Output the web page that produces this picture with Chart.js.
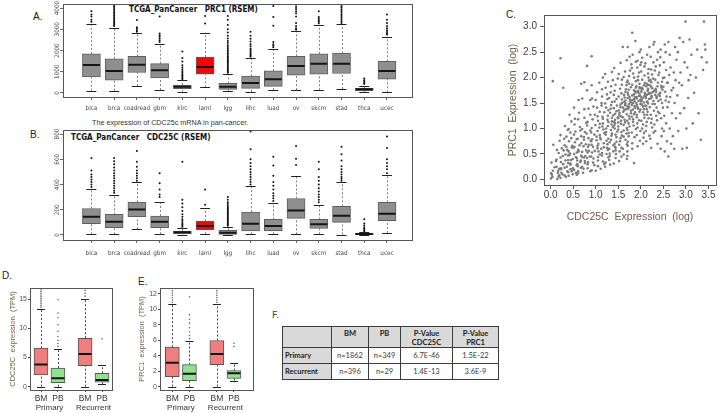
<!DOCTYPE html>
<html>
<head>
<meta charset="utf-8">
<script src="https://cdn.jsdelivr.net/npm/chart.js@4.4.1/dist/chart.umd.min.js"></script>
<style>
  body { margin: 0; width: 720px; height: 413px; position: relative; overflow: hidden; background: #fff;
         font-family: 'Liberation Sans', Arial, sans-serif; }
  canvas, .t { position: absolute; }
  .t { white-space: pre; line-height: 1; color: #222; }
  .letter { font-size: 10px; }
  .ptitle { font-family: 'Liberation Sans Narrow', 'DejaVu Sans Condensed', sans-serif; font-weight: bold; font-size: 8px; color: #111; }
  .caption { font-size: 7.2px; color: #333; }
  #tableF { position: absolute; left: 282px; top: 326px; border-collapse: collapse;
            font-family: Lato, 'Open Sans', sans-serif; font-size: 7.5px; color: #3a3a3a; }
  #tableF td { border: 1.3px solid #3c3c3c; padding: 0; text-align: center; vertical-align: middle; line-height: 1.2; }
  #tableF tr.head td { background: #d9d9d9; font-weight: bold; vertical-align: top; padding-top: 2px; height: 18px; color: #222; }
  #tableF tr.row td { height: 15px; }
  #tableF td.rh { background: #d9d9d9; font-weight: bold; text-align: left; padding-left: 2px; color: #222; }
</style>
</head>
<body>

<div class="t letter" style="left:33px;top:12px">A.</div>
<div class="t ptitle" style="left:129px;top:6px">TCGA_PanCancer   PRC1 (RSEM)</div>
<canvas id="chartA" width="420" height="115" style="left:0;top:0"></canvas>

<div class="t caption" style="left:92px;top:119px">The expression of CDC25c mRNA in pan-cancer.</div>
<div class="t letter" style="left:30px;top:130px">B.</div>
<div class="t ptitle" style="left:71px;top:133.5px">TCGA_PanCancer   CDC25C (RSEM)</div>
<canvas id="chartB" width="420" height="145" style="left:0;top:118px"></canvas>

<div class="t letter" style="left:506px;top:10px">C.</div>
<canvas id="chartC" width="220" height="230" style="left:500px;top:0"></canvas>

<div class="t letter" style="left:2px;top:271px">D.</div>
<canvas id="chartD" width="125" height="133" style="left:0;top:280px"></canvas>

<div class="t letter" style="left:138px;top:277px">E.</div>
<canvas id="chartE" width="130" height="133" style="left:130px;top:280px"></canvas>

<div class="t letter" style="left:272px;top:310px;font-family:Lato,sans-serif;font-size:9.5px;color:#444">F.</div>
<table id="tableF">
  <colgroup><col style="width:49px"><col style="width:37px"><col style="width:32px"><col style="width:52px"><col style="width:46px"></colgroup>
  <tr class="head"><td></td><td>BM</td><td>PB</td><td>P-Value<br>CDC25C</td><td>P-Value<br>PRC1</td></tr>
  <tr class="row"><td class="rh">Primary</td><td>n=1862</td><td>n=349</td><td>6.7E-46</td><td>1.5E-22</td></tr>
  <tr class="row"><td class="rh">Recurrent</td><td>n=396</td><td>n=29</td><td>1.4E-13</td><td>3.6E-9</td></tr>
</table>

<script>
// ---------- panels A and B: TCGA pan-cancer boxplots ----------
const cancers = ['blca', 'brca', 'coadread', 'gbm', 'kirc', 'laml', 'lgg', 'lihc', 'luad', 'ov', 'skcm', 'stad', 'thca', 'ucec'];

const prc1Low    = [107, 107, 325, 140, 62, 265, 93, 46, 140, 140, 125, 186, 30, 30];
const prc1Q1     = [760, 605, 962, 713, 202, 884, 170, 217, 310, 837, 884, 915, 107, 650];
const prc1Median = [1318, 1040, 1333, 1070, 295, 1225, 295, 465, 650, 1271, 1380, 1380, 170, 1040];
const prc1Q3     = [1845, 1612, 1720, 1380, 372, 1690, 450, 790, 1040, 1720, 1845, 1876, 218, 1490];
const prc1High   = [3240, 3060, 2840, 2310, 605, 2840, 880, 1640, 2080, 2900, 3210, 3240, 340, 2650];
const prc1Outliers = [
  [3350, 3450, 3600, 3700, 3850],
  [3150, 3200, 3260, 3320, 3380, 3450, 3520, 3580, 3650, 3720, 3790, 3860, 3930, 4000, 4070, 4140, 4190],
  [2880, 2950, 3020, 3100, 3440],
  [2400, 2480, 2560, 2650, 2720, 2800, 3600],
  [650, 700, 760, 820, 880, 950, 1020, 1100, 1200, 1300, 1480, 1650, 1950],
  [3270, 3630],
  [950, 1000, 1060, 1120, 1180, 1240, 1300, 1360, 1420, 1480, 1540, 1600, 1660, 1720, 1790, 1860, 1930, 2000, 2080, 2160, 2250, 2350, 2450, 2560, 2700, 2850, 3000, 3200, 3450, 3630],
  [1700, 1760, 1820, 1880, 1950, 2020, 2100, 2200, 2300, 2420, 2550, 2700, 2880],
  [2150, 2220, 2300, 2400, 3160, 3580, 4090],
  [2980, 3050, 3150, 3300, 3600, 3750, 3850, 3950, 4050, 4150],
  [3280, 3350, 3420, 3500, 3580, 3850],
  [3300, 3380, 3460, 3540, 3620, 3700, 3780, 3860, 3940, 4020, 4100, 4180],
  [420, 480, 540, 600, 680],
  [2750, 2800, 2870, 2950, 3050, 3150, 3300, 3450, 3700]
];
const prc1Ticks = [0, 1000, 2000, 3000, 4000];

const cdc25cLow    = [5, 5, 45, 5, 3, 5, 0, 5, 5, 5, 5, 3, 0, 16];
const cdc25cQ1     = [89, 58, 144, 58, 10, 39, 5, 31, 31, 131, 52, 100, 3, 113];
const cdc25cMedian = [144, 105, 202, 105, 21, 71, 18, 89, 71, 194, 84, 153, 8, 169];
const cdc25cQ3     = [210, 163, 260, 150, 31, 110, 37, 181, 123, 289, 123, 227, 13, 259];
const cdc25cHigh   = [365, 320, 420, 262, 58, 215, 66, 391, 254, 470, 236, 417, 25, 473];
const cdc25cOutliers = [
  [380, 400, 420, 440, 460, 480, 510, 610],
  [335, 350, 370, 390, 410, 430, 450, 470, 490, 510, 535, 560, 585, 610],
  [430, 450, 470, 490, 510, 540, 580, 665],
  [300, 320, 360, 410, 490],
  [65, 75, 85, 95, 110, 125, 145, 165, 190, 220, 250, 280, 580],
  [240, 360],
  [72, 80, 90, 100, 110, 120, 130, 140, 150, 160, 170, 180, 190, 200, 210, 220, 230, 245, 260, 280, 300],
  [400, 420, 440, 460, 480, 500, 520, 545, 570, 600, 680, 820],
  [270, 290, 310, 330, 360, 390, 420, 470, 550, 620],
  [555, 605, 705],
  [260, 280, 300, 320, 345, 370, 400, 430, 460, 520, 580],
  [430, 445, 460, 480, 500, 520, 545, 590, 640, 700],
  [30, 40, 50, 60, 75, 90, 125],
  [490, 520, 545, 570, 600, 690, 780]
];
const cdc25cTicks = [0, 200, 400, 600, 800];

// ---------- panel C: CDC25C vs PRC1 (log), [x, y] ----------
const cdc25cVsPrc1 = [
  [0.01,0.02],[0.04,0.05],[0.01,0.12],[0.05,0.17],[0.09,0.24],[0.02,0.33],[0.06,0.68],[0.05,1.93],[0.03,0.09],
  [0.15,0.01],[0.18,0.06],[0.19,0.08],[0.17,0.17],[0.19,0.21],[0.13,0.25],[0.12,0.36],[0.13,0.39],[0.18,0.52],[0.14,0.58],[0.16,0.13],
  [0.22,0.03],[0.26,0.10],[0.24,0.13],[0.23,0.20],[0.23,0.22],[0.28,0.30],[0.23,0.34],[0.22,0.43],[0.27,0.46],[0.29,0.57],[0.25,0.61],[0.20,0.76],[0.22,0.87],[0.28,1.80],[0.22,2.38],
  [0.34,0.05],[0.31,0.08],[0.39,0.14],[0.37,0.16],[0.31,0.23],[0.36,0.25],[0.39,0.32],[0.33,0.37],[0.39,0.38],[0.39,0.47],[0.33,0.49],[0.37,0.58],[0.35,0.64],[0.31,0.67],[0.30,0.80],[0.35,0.84],[0.38,0.97],[0.32,1.05],
  [0.40,0.07],[0.49,0.10],[0.47,0.16],[0.44,0.20],[0.49,0.22],[0.44,0.29],[0.44,0.31],[0.45,0.38],[0.49,0.40],[0.42,0.48],[0.43,0.51],[0.40,0.55],[0.47,0.63],[0.48,0.66],[0.41,0.75],[0.46,0.81],[0.44,0.92],[0.40,0.99],[0.46,1.14],[0.42,1.27],
  [0.58,0.09],[0.56,0.13],[0.52,0.19],[0.50,0.21],[0.58,0.28],[0.59,0.30],[0.59,0.37],[0.58,0.42],[0.56,0.44],[0.52,0.50],[0.58,0.53],[0.50,0.62],[0.53,0.64],[0.54,0.73],[0.58,0.79],[0.52,0.88],[0.55,0.94],[0.53,1.08],[0.54,1.19],[0.52,1.41],
  [0.61,0.12],[0.61,0.16],[0.67,0.23],[0.60,0.26],[0.66,0.34],[0.67,0.37],[0.69,0.44],[0.68,0.47],[0.62,0.55],[0.61,0.58],[0.64,0.67],[0.68,0.71],[0.60,0.80],[0.68,0.85],[0.66,0.96],[0.65,1.03],[0.61,1.18],[0.63,1.31],[0.62,1.56],[0.68,1.88],
  [0.72,0.13],[0.73,0.21],[0.70,0.25],[0.76,0.32],[0.76,0.36],[0.74,0.43],[0.77,0.46],[0.70,0.54],[0.79,0.57],[0.73,0.65],[0.78,0.69],[0.74,0.78],[0.74,0.83],[0.76,0.93],[0.70,0.99],[0.79,1.11],[0.75,1.21],[0.75,1.38],[0.70,1.59],[0.75,1.91],
  [0.88,0.16],[0.82,0.22],[0.82,0.30],[0.83,0.34],[0.81,0.42],[0.87,0.45],[0.82,0.53],[0.85,0.56],[0.83,0.64],[0.85,0.68],[0.89,0.76],[0.84,0.81],[0.80,0.90],[0.88,0.96],[0.81,1.06],[0.82,1.13],[0.88,1.27],[0.84,1.39],[0.88,1.56],[0.81,1.75],[0.81,2.23],
  [0.91,0.18],[0.97,0.28],[0.94,0.33],[0.95,0.41],[0.90,0.45],[0.92,0.53],[0.98,0.56],[0.94,0.64],[0.91,0.68],[0.90,0.75],[0.92,0.79],[0.97,0.88],[0.90,0.92],[0.91,1.01],[0.99,1.07],[0.93,1.18],[0.98,1.27],[0.95,1.43],[0.92,1.59],[0.91,1.85],[0.91,2.42],
  [1.00,0.17],[1.05,0.26],[1.05,0.37],[1.05,0.44],[1.09,0.49],[1.06,0.55],[1.04,0.61],[1.04,0.66],[1.06,0.70],[1.02,0.77],[1.02,0.84],[1.09,0.87],[1.04,0.95],[1.08,1.02],[1.09,1.09],[1.05,1.15],[1.04,1.24],[1.09,1.33],[1.03,1.41],[1.00,1.56],[1.03,1.71],[1.08,1.90],
  [1.11,0.21],[1.19,0.30],[1.16,0.35],[1.14,0.47],[1.14,0.52],[1.12,0.60],[1.18,0.63],[1.18,0.71],[1.11,0.79],[1.10,0.82],[1.19,0.91],[1.17,0.98],[1.15,1.04],[1.16,1.10],[1.16,1.19],[1.15,1.23],[1.19,1.32],[1.13,1.45],[1.13,1.50],[1.14,1.63],[1.14,1.77],[1.16,2.00],
  [1.21,0.25],[1.22,0.33],[1.28,0.43],[1.24,0.50],[1.27,0.58],[1.25,0.62],[1.26,0.69],[1.24,0.76],[1.28,0.80],[1.22,0.88],[1.23,0.93],[1.23,1.00],[1.27,1.05],[1.28,1.13],[1.26,1.17],[1.27,1.25],[1.28,1.36],[1.23,1.41],[1.21,1.49],[1.26,1.58],[1.25,1.67],[1.22,1.80],[1.27,1.92],[1.21,2.07],
  [1.32,0.29],[1.30,0.38],[1.31,0.46],[1.39,0.55],[1.30,0.60],[1.39,0.67],[1.31,0.73],[1.34,0.78],[1.35,0.86],[1.36,0.90],[1.34,0.97],[1.38,1.03],[1.35,1.08],[1.36,1.14],[1.36,1.21],[1.39,1.26],[1.32,1.31],[1.33,1.39],[1.34,1.46],[1.36,1.52],[1.30,1.60],[1.33,1.71],[1.34,1.83],[1.38,1.95],[1.36,2.11],[1.31,0.51],
  [1.40,0.31],[1.44,0.42],[1.45,0.50],[1.44,0.57],[1.43,0.64],[1.42,0.70],[1.46,0.74],[1.46,0.83],[1.44,0.88],[1.48,0.94],[1.42,1.00],[1.41,1.06],[1.43,1.10],[1.43,1.17],[1.49,1.22],[1.43,1.29],[1.46,1.34],[1.40,1.40],[1.47,1.45],[1.42,1.53],[1.46,1.58],[1.40,1.66],[1.42,1.74],[1.44,1.86],[1.49,1.98],[1.41,2.19],[1.44,0.62],[1.41,1.13],
  [1.52,0.36],[1.57,0.45],[1.53,0.55],[1.57,0.62],[1.52,0.68],[1.54,0.75],[1.55,0.81],[1.58,0.86],[1.57,0.93],[1.50,0.98],[1.50,1.04],[1.56,1.09],[1.56,1.15],[1.50,1.20],[1.56,1.24],[1.53,1.31],[1.51,1.36],[1.55,1.42],[1.55,1.47],[1.58,1.50],[1.58,1.57],[1.51,1.63],[1.57,1.69],[1.54,1.78],[1.58,1.86],[1.58,1.96],[1.51,2.07],[1.55,2.29],[1.52,1.27],[1.50,1.12],
  [1.69,0.40],[1.62,0.49],[1.60,0.60],[1.69,0.69],[1.66,0.78],[1.62,0.84],[1.68,0.90],[1.62,0.96],[1.69,1.01],[1.62,1.07],[1.65,1.12],[1.64,1.17],[1.60,1.22],[1.69,1.28],[1.61,1.33],[1.67,1.38],[1.61,1.41],[1.65,1.46],[1.63,1.52],[1.66,1.55],[1.64,1.61],[1.63,1.66],[1.66,1.72],[1.67,1.77],[1.68,1.85],[1.69,1.91],[1.62,2.01],[1.65,2.12],[1.69,2.34],[1.60,2.60],[1.63,1.36],[1.66,1.49],
  [1.70,0.46],[1.70,0.55],[1.71,0.66],[1.71,0.74],[1.73,0.85],[1.73,0.91],[1.70,0.97],[1.75,1.04],[1.73,1.10],[1.70,1.15],[1.75,1.19],[1.74,1.24],[1.78,1.30],[1.78,1.35],[1.72,1.39],[1.70,1.44],[1.74,1.48],[1.76,1.53],[1.76,1.57],[1.75,1.62],[1.72,1.66],[1.71,1.70],[1.73,1.76],[1.78,1.81],[1.74,1.88],[1.71,1.94],[1.74,2.03],[1.76,2.14],[1.79,2.26],[1.75,2.41],[1.71,2.60],[1.79,1.51],[1.74,1.42],[1.71,1.60],
  [1.85,0.32],[1.81,0.60],[1.81,0.71],[1.86,0.83],[1.80,0.92],[1.89,0.99],[1.84,1.06],[1.83,1.13],[1.83,1.18],[1.80,1.23],[1.85,1.28],[1.87,1.32],[1.82,1.37],[1.87,1.41],[1.80,1.46],[1.83,1.50],[1.86,1.54],[1.85,1.58],[1.87,1.62],[1.85,1.67],[1.89,1.71],[1.85,1.75],[1.89,1.80],[1.81,1.86],[1.89,1.93],[1.85,2.00],[1.83,2.08],[1.80,2.19],[1.89,2.31],[1.82,2.45],[1.88,2.72],[1.81,2.88],[1.86,1.44],[1.81,1.56],[1.81,1.65],[1.87,1.73],
  [1.93,0.65],[1.98,0.76],[1.91,0.87],[1.99,0.95],[1.93,1.02],[1.92,1.10],[1.96,1.16],[1.91,1.22],[1.91,1.27],[1.97,1.33],[1.99,1.37],[1.93,1.42],[1.91,1.46],[1.90,1.50],[1.95,1.54],[1.91,1.59],[1.91,1.62],[1.98,1.66],[1.95,1.70],[1.94,1.74],[1.98,1.79],[1.90,1.83],[1.97,1.88],[1.94,1.95],[1.94,2.02],[1.96,2.10],[1.92,2.20],[1.93,2.33],[1.97,2.50],[1.99,1.48],[1.99,1.57],[1.96,1.64],[1.92,1.72],[1.97,1.81],[1.94,1.39],[1.99,2.25],
  [2.05,0.70],[2.06,0.82],[2.07,0.91],[2.03,1.00],[2.05,1.08],[2.01,1.15],[2.08,1.21],[2.08,1.27],[2.05,1.32],[2.07,1.38],[2.05,1.43],[2.02,1.47],[2.07,1.51],[2.02,1.56],[2.04,1.60],[2.08,1.64],[2.09,1.68],[2.01,1.72],[2.02,1.76],[2.02,1.80],[2.07,1.85],[2.09,1.90],[2.03,1.96],[2.08,2.04],[2.01,2.12],[2.08,2.22],[2.03,2.39],[2.00,2.55],[2.01,1.53],[2.01,1.62],[2.09,1.70],[2.04,1.78],[2.09,1.45],[2.01,2.30],
  [2.12,0.75],[2.19,0.86],[2.11,0.95],[2.12,1.05],[2.13,1.13],[2.17,1.20],[2.14,1.27],[2.15,1.33],[2.13,1.38],[2.12,1.44],[2.16,1.49],[2.14,1.53],[2.18,1.58],[2.11,1.62],[2.13,1.66],[2.19,1.70],[2.15,1.74],[2.16,1.78],[2.12,1.83],[2.13,1.88],[2.18,1.94],[2.17,2.00],[2.16,2.08],[2.17,2.17],[2.10,2.28],[2.14,2.45],[2.19,2.60],[2.11,1.60],[2.17,1.68],[2.16,1.76],[2.16,1.86],[2.14,1.52],
  [2.23,0.62],[2.21,0.80],[2.28,0.92],[2.25,1.02],[2.23,1.11],[2.24,1.19],[2.22,1.27],[2.29,1.35],[2.20,1.42],[2.26,1.48],[2.28,1.54],[2.22,1.59],[2.24,1.64],[2.21,1.69],[2.29,1.74],[2.25,1.79],[2.20,1.85],[2.23,1.91],[2.27,1.98],[2.25,2.06],[2.23,2.16],[2.28,2.30],[2.22,2.41],[2.28,2.65],[2.26,1.71],[2.23,1.82],[2.24,1.62],[2.21,1.95],
  [2.37,0.70],[2.32,0.95],[2.30,1.08],[2.36,1.16],[2.34,1.25],[2.38,1.33],[2.35,1.41],[2.31,1.48],[2.39,1.54],[2.35,1.60],[2.32,1.66],[2.34,1.72],[2.33,1.78],[2.37,1.83],[2.38,1.90],[2.32,1.96],[2.39,2.05],[2.31,2.14],[2.33,2.22],[2.36,2.35],[2.38,2.50],[2.30,2.70],[2.33,1.76],[2.35,1.63],
  [2.44,0.60],[2.46,0.85],[2.47,1.00],[2.45,1.20],[2.41,1.30],[2.49,1.41],[2.47,1.50],[2.44,1.57],[2.42,1.64],[2.43,1.70],[2.48,1.76],[2.45,1.84],[2.47,1.92],[2.49,1.99],[2.41,2.10],[2.42,2.24],[2.43,2.40],[2.44,2.55],[2.46,1.80],[2.40,1.67],
  [2.53,0.55],[2.58,0.75],[2.51,0.95],[2.56,1.10],[2.52,1.25],[2.59,1.42],[2.55,1.55],[2.57,1.63],[2.54,1.72],[2.50,1.82],[2.58,1.90],[2.52,2.00],[2.56,2.15],[2.51,2.30],[2.55,2.50],[2.53,2.65],
  [2.61,0.45],[2.67,0.70],[2.64,1.00],[2.69,1.30],[2.62,1.52],[2.65,1.62],[2.68,1.75],[2.60,1.90],[2.63,2.05],[2.66,2.20],[2.64,2.45],[2.61,2.70],
  [2.74,0.60],[2.71,0.85],[2.78,1.20],[2.75,1.50],[2.72,1.80],[2.77,1.95],[2.73,2.10],[2.79,2.35],[2.76,2.60],
  [2.83,0.95],[2.87,1.30],[2.81,1.65],[2.85,1.90],[2.88,2.10],[2.82,2.50],[2.86,2.78],
  [2.92,0.60],[2.96,1.40],[2.91,1.85],[2.97,2.30],[2.94,2.70],[2.99,3.10],
  [3.01,1.00],[3.03,2.20],[3.05,1.60],[3.08,2.75],[3.02,0.62],[3.06,1.95],
  [3.12,2.45],[3.15,1.10],[3.18,1.70],[3.10,2.05],
  [3.22,2.00],[3.25,2.55],[3.28,1.30],
  [3.33,0.78],[3.35,2.40],[3.38,2.15],
  [3.40,3.10],[3.43,2.55],[3.46,2.30],[3.42,2.65]
];
const scatterTicksX = [0, 0.5, 1, 1.5, 2, 2.5, 3, 3.5];
const scatterTicksY = [0, 0.5, 1, 1.5, 2, 2.5, 3];

// ---------- panels D and E: BM vs PB, primary and recurrent ----------
const sourceLabels = ['BM', 'PB', 'BM', 'PB'];
const cohortLabels = ['Primary', 'Recurrent'];

const cdc25cTpmLow    = [0, 0, 0, 0.4];
const cdc25cTpmQ1     = [2.0, 0.7, 3.6, 0.75];
const cdc25cTpmMedian = [3.8, 1.45, 5.6, 1.15];
const cdc25cTpmQ3     = [6.6, 3.2, 8.3, 2.3];
const cdc25cTpmHigh   = [13.3, 6.5, 15.05, 3.7];
const cdc25cTpmOutliers = [
  [13.6, 13.9, 14.2, 14.5, 14.8, 15.1, 15.4, 15.7, 16.0, 16.3, 16.6, 16.9],
  [6.9, 7.4, 7.9, 8.6, 9.5, 10.6, 11.8, 12.6, 14.9],
  [15.5, 16.0, 16.5],
  [8.2]
];
const cdc25cTpmTicks = [0, 5, 10, 15];

const prc1TpmLow    = [0, 0, 0, 0.78];
const prc1TpmQ1     = [1.3, 0.78, 2.85, 1.08];
const prc1TpmMedian = [3.1, 1.68, 4.23, 1.73];
const prc1TpmQ3     = [5.1, 2.85, 5.96, 2.07];
const prc1TpmHigh   = [10.67, 5.87, 10.67, 3.1];
const prc1TpmOutliers = [
  [10.9, 11.2, 11.5, 11.8, 12.1, 12.4, 12.7],
  [6.2, 6.6, 7.1, 7.6, 8.2, 8.7, 9.3, 11.6],
  [10.9, 11.2, 11.5, 11.8, 12.1, 12.4, 12.7],
  [5.2, 5.6]
];
const prc1TpmTicks = [0, 2, 4, 6, 8, 10, 12];

// ---------- drawing ----------
Chart.defaults.animation = false;
Chart.defaults.responsive = false;
Chart.defaults.events = [];
Chart.defaults.font.family = "'Liberation Sans', Arial, sans-serif";
Chart.defaults.plugins.legend.display = false;
Chart.defaults.plugins.tooltip.enabled = false;

const sans = "'Liberation Sans', Arial, sans-serif";
const narrow = "'Liberation Sans Narrow', 'DejaVu Sans Condensed', sans-serif";
const cancerSlots = cancers.map((c, i) => i + 1);
const groupSlots = [1, 2, 3.6, 4.6];
const cohortSlots = [1.5, 4.1];

// box around the plotting region, like R's box()
const framePlugin = {
  id: 'frame',
  defaults: { color: '#555', width: 1 },
  afterDraw(chart, args, opts) {
    const { ctx, chartArea: a } = chart;
    ctx.save();
    ctx.strokeStyle = opts.color;
    ctx.lineWidth = opts.width;
    ctx.strokeRect(Math.round(a.left) + 0.5, Math.round(a.top) + 0.5, Math.round(a.right - a.left), Math.round(a.bottom - a.top));
    ctx.restore();
  }
};
Chart.register(framePlugin);

// whiskers, caps and medians for the floating-bar boxes
const boxPlugin = {
  id: 'boxStats',
  beforeDatasetsDraw(chart) {
    const b = chart.data.datasets[0].stats;
    const { ctx, scales: { x, y } } = chart;
    ctx.save();
    ctx.strokeStyle = b.whiskerColor;
    ctx.lineWidth = 1;
    ctx.setLineDash([2, 2]);
    ctx.beginPath();
    b.slots.forEach((s, i) => {
      const px = Math.round(x.getPixelForValue(s)) + 0.5;
      ctx.moveTo(px, y.getPixelForValue(b.low[i]));
      ctx.lineTo(px, y.getPixelForValue(b.q1[i]));
      ctx.moveTo(px, y.getPixelForValue(b.q3[i]));
      ctx.lineTo(px, y.getPixelForValue(b.high[i]));
    });
    ctx.stroke();
    ctx.restore();
  },
  afterDatasetsDraw(chart) {
    const b = chart.data.datasets[0].stats;
    const { ctx, scales: { x, y } } = chart;
    ctx.save();
    ctx.strokeStyle = '#222';
    ctx.lineWidth = 1;
    ctx.beginPath();
    b.slots.forEach((s, i) => {
      const px = x.getPixelForValue(s);
      [b.low[i], b.high[i]].forEach(v => {
        const py = Math.round(y.getPixelForValue(v)) + 0.5;
        ctx.moveTo(px - b.cap / 2, py);
        ctx.lineTo(px + b.cap / 2, py);
      });
    });
    ctx.stroke();
    ctx.strokeStyle = '#151515';
    ctx.lineWidth = 2;
    ctx.beginPath();
    b.slots.forEach((s, i) => {
      const px = x.getPixelForValue(s);
      const py = y.getPixelForValue(b.median[i]);
      ctx.moveTo(px - b.width / 2 + 0.5, py);
      ctx.lineTo(px + b.width / 2 - 0.5, py);
    });
    ctx.stroke();
    ctx.restore();
  }
};

function boxChart(id, stats, look, scales, padding) {
  const boxes = stats.slots.map((x, i) => ({ x, y: [stats.q1[i], stats.q3[i]] }));
  const dots = stats.outliers.flatMap((list, i) => list.map(v => ({ x: stats.slots[i], y: v })));
  return new Chart(document.getElementById(id), {
    type: 'scatter',
    data: {
      datasets: [
        { type: 'bar', data: boxes, stats: Object.assign({}, stats, look), backgroundColor: look.fills, borderColor: look.edge,
          borderWidth: 1, borderSkipped: false, barThickness: look.width, order: 1 },
        { data: dots, pointRadius: look.dot, pointBackgroundColor: look.dotColor, pointBorderWidth: 0, order: 2 }
      ]
    },
    options: { layout: { padding }, scales },
    plugins: [boxPlugin]
  });
}

function tcgaScales(yMin, yMax, yTicks, xHeight, xPad, yPad) {
  return {
    x: {
      type: 'linear', min: -0.25, max: 15.1, offset: false,
      afterBuildTicks: s => { s.ticks = cancerSlots.map(v => ({ value: v })); },
      ticks: { autoSkip: false, maxRotation: 0, padding: xPad, color: '#444', font: { family: narrow, size: 6.3 },
               callback: (v, i) => cancers[i] },
      grid: { drawOnChartArea: false, offset: false, tickLength: 3, color: '#666' },
      border: { display: false },
      afterFit: s => { s.height = xHeight; }
    },
    y: {
      min: yMin, max: yMax,
      afterBuildTicks: s => { s.ticks = yTicks.map(v => ({ value: v })); },
      ticks: { minRotation: 90, maxRotation: 90, crossAlign: 'center', padding: yPad, color: '#444',
               font: { family: narrow, size: 6.3 }, callback: v => String(v) },
      grid: { drawOnChartArea: false, tickLength: 3, color: '#666' },
      border: { display: false },
      afterFit: s => { s.width = 63; }
    }
  };
}

const tcgaLook = {
  fills: cancers.map(c => c === 'laml' ? '#ff0000' : '#8f8f8f'),
  edge: '#5e5e5e', width: 18, cap: 10, dot: 1, dotColor: '#111', whiskerColor: '#808080'
};

boxChart('chartA',
  { slots: cancerSlots, low: prc1Low, q1: prc1Q1, median: prc1Median, q3: prc1Q3, high: prc1High, outliers: prc1Outliers },
  tcgaLook, tcgaScales(-190, 4190, prc1Ticks, 18, 4.5, -4.2), { top: 3, right: 8, left: 0, bottom: 0 });

boxChart('chartB',
  { slots: cancerSlots, low: cdc25cLow, q1: cdc25cQ1, median: cdc25cMedian, q3: cdc25cQ3, high: cdc25cHigh, outliers: cdc25cOutliers },
  tcgaLook, tcgaScales(-40, 832, cdc25cTicks, 23, 6.5, -2.8), { top: 12, right: 8, left: 0, bottom: 0 });

// panel C scatter
new Chart(document.getElementById('chartC'), {
  type: 'scatter',
  data: {
    datasets: [{
      data: cdc25cVsPrc1.map(p => ({ x: p[0], y: p[1] })),
      pointRadius: 1.3, pointBackgroundColor: '#7c7c7c', pointBorderWidth: 0
    }]
  },
  options: {
    layout: { padding: { top: 15, right: 1, left: 0, bottom: 0 } },
    scales: {
      x: {
        min: -0.146, max: 3.666,
        afterBuildTicks: s => { s.ticks = scatterTicksX.map(v => ({ value: v })); },
        ticks: { padding: 0, color: '#3c3c3c', font: { size: 10 }, callback: v => v.toFixed(1) },
        grid: { drawOnChartArea: false, tickLength: 4, color: '#555' },
        border: { display: false },
        title: { display: true, text: 'CDC25C  Expression  (log)', color: '#6b5f4c', font: { size: 10.5 }, padding: { top: 0, bottom: 6.4 } },
        afterFit: s => { s.height = 45; }
      },
      y: {
        min: -0.11, max: 3.23,
        afterBuildTicks: s => { s.ticks = scatterTicksY.map(v => ({ value: v })); },
        ticks: { padding: 3, color: '#3c3c3c', font: { size: 10 }, callback: v => v.toFixed(1) },
        grid: { drawOnChartArea: false, tickLength: 4, color: '#555' },
        border: { display: false },
        title: { display: true, text: 'PRC1  Expression  (log)', color: '#6b5f4c', font: { size: 10.5 }, padding: { top: 6.4, bottom: 0 } },
        afterFit: s => { s.width = 44; }
      }
    }
  }
});

// panels D and E
function tpmScales(yMin, yMax, yTicks, xMin, xMax, title, titlePad) {
  return {
    x: {
      type: 'linear', min: xMin, max: xMax, offset: false, weight: 0,
      afterBuildTicks: s => { s.ticks = groupSlots.map(v => ({ value: v })); },
      ticks: { autoSkip: false, maxRotation: 0, padding: 1.5, color: '#333', font: { family: sans, size: 8.5 },
               callback: (v, i) => sourceLabels[i] },
      grid: { drawOnChartArea: false, offset: false, tickLength: 2, color: '#444' },
      border: { display: false },
      afterFit: s => { s.height = 12; }
    },
    x2: {
      type: 'linear', position: 'bottom', min: xMin, max: xMax, offset: false, weight: 1,
      afterBuildTicks: s => { s.ticks = cohortSlots.map(v => ({ value: v })); },
      ticks: { autoSkip: false, maxRotation: 0, padding: 1, color: '#333', font: { family: sans, size: 8 },
               callback: (v, i) => cohortLabels[i] },
      grid: { display: false, drawTicks: false },
      border: { display: false },
      afterFit: s => { s.height = 11; }
    },
    y: {
      min: yMin, max: yMax,
      afterBuildTicks: s => { s.ticks = yTicks.map(v => ({ value: v })); },
      ticks: { padding: 1, color: '#4d4d4d', font: { family: sans, size: 7 }, callback: v => String(v) },
      grid: { drawOnChartArea: false, tickLength: 2, color: '#444' },
      border: { display: false },
      title: { display: true, text: title, color: '#6e6450', font: { family: sans, size: 7.5 }, padding: { top: titlePad, bottom: 0 } },
      afterFit: s => { s.width = 30; }
    }
  };
}

const tpmLook = {
  fills: ['#ef7f7f', '#8fe38f', '#ef7f7f', '#8fe38f'],
  edge: '#555', width: 14, cap: 8, dot: 0.8, dotColor: '#666', whiskerColor: '#444'
};

boxChart('chartD',
  { slots: groupSlots, low: cdc25cTpmLow, q1: cdc25cTpmQ1, median: cdc25cTpmMedian, q3: cdc25cTpmQ3, high: cdc25cTpmHigh, outliers: cdc25cTpmOutliers },
  tpmLook, tpmScales(-0.57, 16.9, cdc25cTpmTicks, 0.35, 5.19, 'CDC25C  expression  (TPM)', 8.8),
  { top: 8, right: 13, left: 0, bottom: 0 });

boxChart('chartE',
  { slots: groupSlots, low: prc1TpmLow, q1: prc1TpmQ1, median: prc1TpmMedian, q3: prc1TpmQ3, high: prc1TpmHigh, outliers: prc1TpmOutliers },
  tpmLook, tpmScales(-0.43, 12.74, prc1TpmTicks, 0.28, 5.71, 'PRC1  expression  (TPM)', 7.2),
  { top: 8, right: 7, left: 0, bottom: 0 });
</script>
</body>
</html>
